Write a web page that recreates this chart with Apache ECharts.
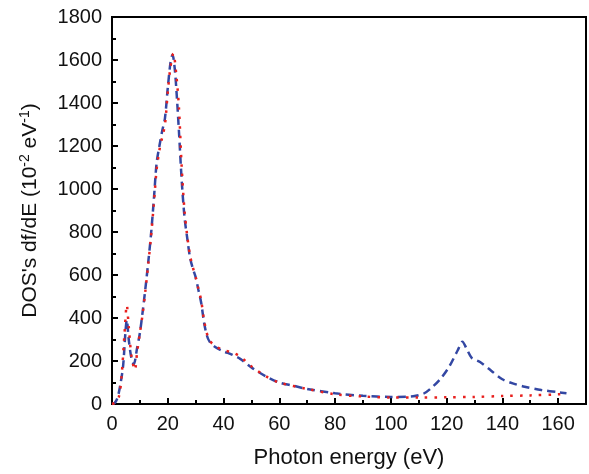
<!DOCTYPE html>
<html><head><meta charset="utf-8">
<script src="https://cdn.jsdelivr.net/npm/echarts@6/dist/echarts.min.js"></script>
<style>html,body{margin:0;padding:0;background:#fff}#c{width:589px;height:474px}</style>
</head><body><div id="c"></div>
<script>
const xTicks = [0,20,40,60,80,100,120,140,160];
const yTicks = [0,200,400,600,800,1000,1200,1400,1600,1800];

const blueE = [0,1,2,3,4,4.8,5.3,6,7,7.8,9,10,11,12,13,14,15,16,17,18,19,20,21,21.7,22.5,23.2,24,25,26,27,28,29,30,31,32,33,34,35,37,40,43,46,50,55,60,65,70,80,90,100,108,112,115,118,121,124,125.7,127,129,132,136,140,144,148,154,160,163];
const blueV = [0,5,30,90,180,330,390,300,210,185,260,330,430,540,660,790,950,1120,1200,1270,1330,1470,1590,1625,1560,1440,1270,1040,870,770,680,630,590,530,470,380,320,290,265,245,230,210,170,130,100,85,70,50,38,33,36,50,80,120,175,250,290,262,215,195,155,115,95,80,65,55,50];

const redE = [0,1,2.5,3.5,4.5,5.3,6,7,8.2,9,10,11,12,13,14,15,16,17,18,19,20,21,22,23,24,25,26,27,28,29,30,31,32,33,34,35,37,40,43,46,50,55,60,70,80,90,100,110,120,130,140,150,160,162];
const redV = [0,5,35,140,330,460,360,220,158,240,330,420,530,650,780,930,1090,1180,1240,1300,1450,1570,1630,1540,1380,1100,900,780,690,635,590,535,480,390,330,295,270,250,240,220,175,130,100,70,45,35,30,30,31,33,37,40,45,47];

const blue = blueE.map((e,i)=>[e,blueV[i]]);
const red = redE.map((e,i)=>[e,redV[i]]);

const chart = echarts.init(document.getElementById('c'), null, {renderer:'canvas'});
const font = 'Liberation Sans, Arial, sans-serif';
chart.setOption({
  animation:false,
  grid:{left:112,right:3,top:17,bottom:70,show:true,borderColor:'#000',borderWidth:2,backgroundColor:'transparent'},
  xAxis:{type:'value',min:0,max:170,interval:20,
    name:'Photon energy (eV)',nameLocation:'middle',nameGap:43,
    nameTextStyle:{fontFamily:font,fontSize:22,color:'#111'},
    axisLine:{show:true,lineStyle:{color:'#000',width:2}},
    axisTick:{show:true,inside:true,length:6,lineStyle:{color:'#000',width:2}},
    minorTick:{show:true,splitNumber:2,length:4,lineStyle:{color:'#000',width:2}},
    splitLine:{show:false},
    axisLabel:{fontFamily:font,fontSize:20,color:'#111',margin:10,showMaxLabel:false,
      formatter:v=>xTicks.includes(v)?String(v):''}
  },
  yAxis:{type:'value',min:0,max:1800,interval:200,
    name:'{n|DOS\'s df/dE (10}{s|-2}{n| eV}{s|-1}{n|)}',nameLocation:'middle',nameGap:70,nameRotate:90,
    nameTextStyle:{rich:{n:{fontFamily:font,fontSize:21,color:'#111'},s:{fontFamily:font,fontSize:14,color:'#111',verticalAlign:'top',padding:[0,0,10,0]}}},
    axisLine:{show:true,lineStyle:{color:'#000',width:2}},
    axisTick:{show:true,inside:true,length:6,lineStyle:{color:'#000',width:2}},
    minorTick:{show:true,splitNumber:2,length:4,lineStyle:{color:'#000',width:2}},
    splitLine:{show:false},
    axisLabel:{fontFamily:font,fontSize:20,color:'#111',margin:10,
      formatter:v=>yTicks.includes(v)?String(v):''}
  },
  series:[
    {type:'line',data:blue,showSymbol:false,smooth:0.3,
      lineStyle:{color:'#3347a3',width:2.5,type:[8,5]}},
    {type:'line',data:red,showSymbol:false,smooth:0.3,
      lineStyle:{color:'#e8201e',width:2.5,type:[2.5,7]}}
  ]
});
</script></body></html>
